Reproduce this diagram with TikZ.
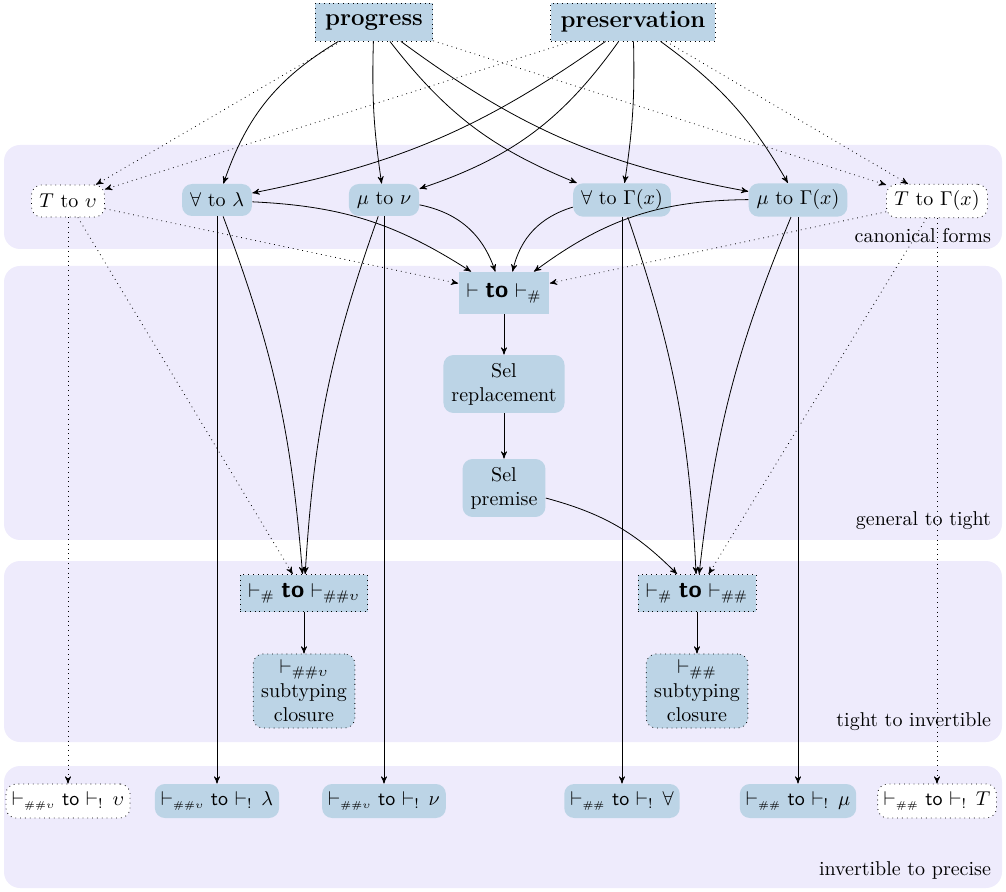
\documentclass[tikz,border=0pt]{standalone}
\usetikzlibrary{arrows}

\definecolor{bandfill}{HTML}{EEEBFC}
\definecolor{boxfill}{HTML}{BCD4E6}

\begin{document}
\begin{tikzpicture}[->,>=stealth',x=0.5pt,y=-0.5pt,
  canon node/.style={rectangle,rounded corners=5pt,fill=boxfill,align=center,inner xsep=4pt,minimum height=16pt},
  open node/.style={canon node,fill=white,draw,dotted},
  goal node/.style={rectangle,fill=boxfill,draw,dotted,inner xsep=5pt,minimum height=19pt,font=\large\bfseries},
  tight node/.style={rectangle,fill=boxfill,draw,dotted,inner xsep=4pt,minimum height=18.5pt},
  closure node/.style={canon node,draw,dotted,inner ysep=3pt},
  precise node/.style={canon node,inner xsep=3pt,minimum height=17pt},
  band/.style={fill=bandfill,rounded corners=8pt},
  band label/.style={anchor=east}]
  \useasboundingbox (0,0) rectangle (1006,892);

  % phases
  \fill[band] (4,145) rectangle (1002,249);
  \fill[band] (4,266) rectangle (1002,540);
  \fill[band] (4,561) rectangle (1002,742);
  \fill[band] (4,766) rectangle (1002,888);
  \node[band label] (l1) at (998,236) {canonical forms};
  \node[band label] (l2) at (998,521) {general to tight};
  \node[band label] (l3) at (998,722) {tight to invertible};
  \node[band label] (l4) at (998,870) {invertible to precise};

  \node[goal node] (pro) at (374,22) {progress};
  \node[goal node] (pre) at (633,22) {preservation};

  \node[open node] (tv) at (68,201) {$T$ to $\upsilon$};
  \node[canon node] (alam) at (217,200) {$\forall$ to $\lambda$};
  \node[canon node] (mnu) at (384,200) {$\mu$ to $\nu$};
  \node[canon node] (agam) at (622,200) {$\forall$ to $\Gamma(x)$};
  \node[canon node] (mgam) at (798,200) {$\mu$ to $\Gamma(x)$};
  \node[open node] (tgam) at (937,201) {$T$ to $\Gamma(x)$};

  \node[rectangle,fill=boxfill,inner xsep=4pt,minimum height=21pt] (tosharp) at (504,293)
    {$\vdash$ {\large\sffamily\bfseries to} $\vdash_{\#}$};
  \node[canon node,inner ysep=4pt] (selrep) [below of=tosharp,node distance=45.5pt] {Sel\\ replacement};
  \node[canon node,inner ysep=4pt] (selprem) [below of=selrep,node distance=52pt] {Sel\\ premise};

  \node[tight node] (sharpv) at (304,593) {$\vdash_{\#}$ {\large\sffamily\bfseries to} $\vdash_{\#\#\upsilon}$};
  \node[closure node] (closv) [below of=sharpv,node distance=49pt] {$\vdash_{\#\#\upsilon}$\\ subtyping\\ closure};
  \node[tight node] (sharpp) at (697,593) {$\vdash_{\#}$ {\large\sffamily\bfseries to} $\vdash_{\#\#}$};
  \node[closure node] (closp) [below of=sharpp,node distance=49pt] {$\vdash_{\#\#}$\\ subtyping\\ closure};

  \node[precise node,fill=white,draw,dotted] (bv) at (68,801) {$\vdash_{\scriptscriptstyle\#\#\upsilon}$ \textsf{to} $\vdash_{!}\,\upsilon$};
  \node[precise node] (blam) at (217,801) {$\vdash_{\scriptscriptstyle\#\#\upsilon}$ \textsf{to} $\vdash_{!}\,\lambda$};
  \node[precise node] (bnu) at (384,801) {$\vdash_{\scriptscriptstyle\#\#\upsilon}$ \textsf{to} $\vdash_{!}\,\nu$};
  \node[precise node] (bfa) at (622,801) {$\vdash_{\scriptscriptstyle\#\#}$ \textsf{to} $\vdash_{!}\,\forall$};
  \node[precise node] (bmu) at (798,801) {$\vdash_{\scriptscriptstyle\#\#}$ \textsf{to} $\vdash_{!}\,\mu$};
  \node[precise node,fill=white,draw,dotted] (bt) at (937,801) {$\vdash_{\scriptscriptstyle\#\#}$ \textsf{to} $\vdash_{!}\,T$};

  \path
  (pro) edge [dotted] (tv)
        edge [bend right=20] (alam)
        edge [bend right=5] (mnu)
        edge [bend right=15] (agam)
        edge [bend right=13] (mgam)
        edge [dotted] (tgam)
  (pre) edge [dotted] (tv)
        edge [bend left=12] (alam)
        edge [bend left=18] (mnu)
        edge [bend left=5] (agam)
        edge [bend left=12] (mgam)
        edge [dotted] (tgam)
  (tv) edge [dotted] (tosharp)
       edge [dotted] (sharpv)
       edge [dotted] (bv)
  (alam) edge [bend left=15] (tosharp)
         edge [bend left=8] (sharpv)
         edge [] (blam)
  (mnu) edge [bend left=30] (tosharp)
        edge [bend right=8] (sharpv)
        edge [] (bnu)
  (agam) edge [bend right=30] (tosharp)
         edge [bend left=8] (sharpp)
         edge [] (bfa)
  (mgam) edge [bend right=18] (tosharp)
         edge [bend right=8] (sharpp)
         edge [] (bmu)
  (tgam) edge [dotted] (tosharp)
         edge [dotted] (sharpp)
         edge [dotted] (bt)
  (tosharp) edge [] (selrep)
  (selrep) edge [] (selprem)
  (selprem) edge [bend left=15] (sharpp)
  (sharpv) edge [] (closv)
  (sharpp) edge [] (closp)
  ;
\end{tikzpicture}
\end{document}
